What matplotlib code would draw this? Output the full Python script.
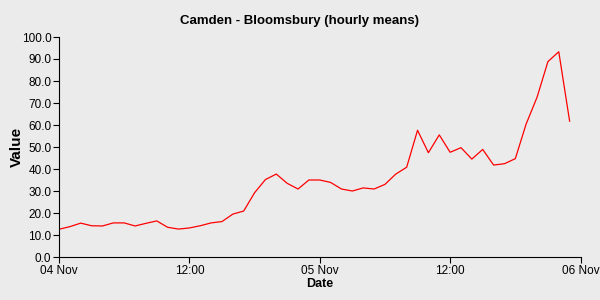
import matplotlib
matplotlib.use("Agg")
import matplotlib.pyplot as plt
import numpy as np

plt.rcParams['font.family'] = ['Liberation Sans', 'DejaVu Sans']

hours = list(range(48))
values = [12.6, 13.8, 15.4, 14.2, 14.1, 15.5, 15.5, 14.1, 15.3, 16.4,
          13.5, 12.7, 13.2, 14.2, 15.5, 16.1, 19.5, 20.9, 29.2, 35.2,
          37.7, 33.5, 30.9, 35.0, 35.0, 33.9, 30.9, 30.0, 31.4, 30.9,
          33.0, 37.7, 40.8, 57.6, 47.4, 55.5, 47.6, 49.7, 44.5, 48.9,
          41.8, 42.4, 44.7, 60.5, 72.6, 88.8, 93.3, 61.7]
xtick_pos = [0, 12, 24, 36, 48]
xtick_labels = ['04 Nov', '12:00', '05 Nov', '12:00', '06 Nov']
ytick_vals = [0, 10, 20, 30, 40, 50, 60, 70, 80, 90, 100]

bg = '#EBEBEB'
fig = plt.figure(figsize=(6, 3), dpi=100, facecolor=bg)
ax = fig.add_axes([59/600, 1-257/300, (580.5-59)/600, (257-37)/300])
ax.set_facecolor(bg)
ax.plot(hours, values, color='#FF0000', lw=0.9)
ax.set_xlim(0, 48)
ax.set_ylim(0, 100)
ax.set_xticks(xtick_pos)
ax.set_xticklabels(xtick_labels)
ax.set_yticks(ytick_vals)
ax.set_yticklabels([f'{v:.1f}' for v in ytick_vals])
for s in ['top', 'right']:
    ax.spines[s].set_visible(False)
for s in ['left', 'bottom']:
    ax.spines[s].set_linewidth(0.8)
ax.tick_params(direction='out', length=4, width=0.8, labelsize=8.5, pad=1.5)
ax.set_xlabel('Date', fontsize=9, fontweight='bold')
ax.xaxis.set_label_coords(0.5, -(284-257)/220, transform=ax.transAxes)
ax.xaxis.label.set_va('center')
ax.set_ylabel('Value', fontsize=11, fontweight='bold')
ax.yaxis.set_label_coords(-(59-17)/521.5, 0.5, transform=ax.transAxes)
ax.yaxis.label.set_va('center')
fig.suptitle('Camden - Bloomsbury (hourly means)', fontsize=9.5, fontweight='bold', y=1-21/300, va='center')
fig.savefig('out.png', dpi=100, facecolor=bg)
